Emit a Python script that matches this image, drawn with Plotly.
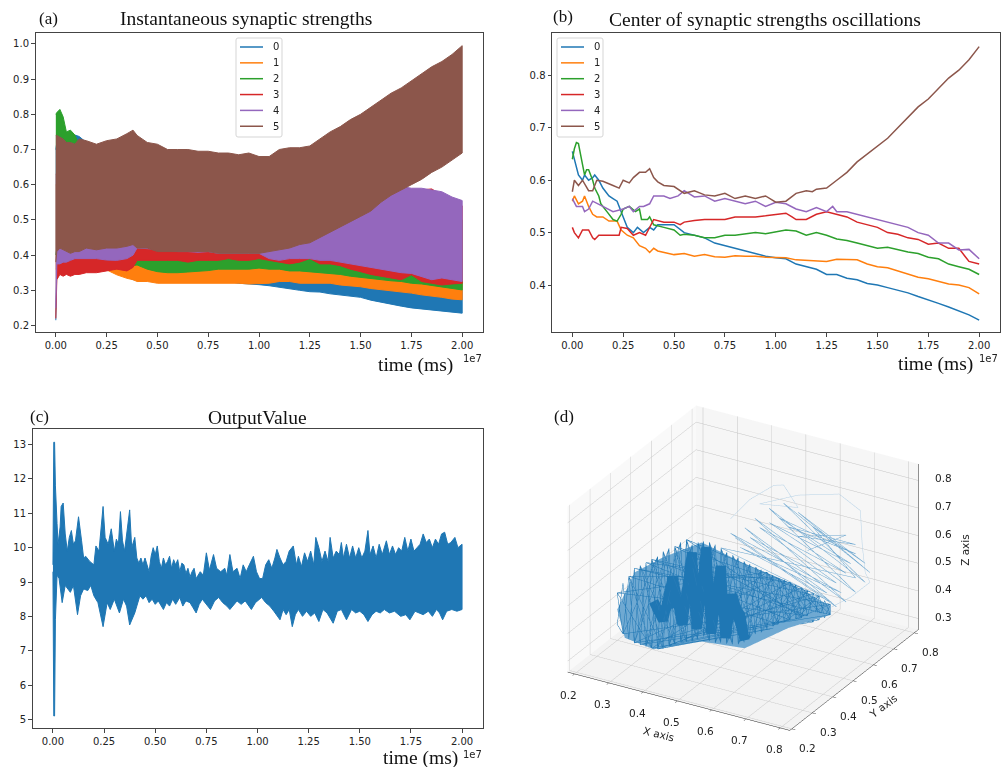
import plotly.graph_objects as go

W, H = 1001, 767
COLORS = ["#1f77b4", "#ff7f0e", "#2ca02c", "#d62728", "#9467bd", "#8c564b"]
NAMES = ["0", "1", "2", "3", "4", "5"]
TICKS_T = [0, .25, .5, .75, 1, 1.25, 1.5, 1.75, 2]
TICKTEXT_T = ["0.00", "0.25", "0.50", "0.75", "1.00", "1.25", "1.50", "1.75", "2.00"]

# ---------- panel (a): envelope of each oscillating strength (time in 1e7 ms)
ta = [0, .005, .02, .036, .052, .072, .094, .115, .15, .2, .25, .3, .35, .38, .4, .45, .5, .55, .6, .65, .7, .75, .8, .85, .9, .95,
      1, 1.05, 1.1, 1.15, 1.2, 1.25, 1.3, 1.35, 1.4, 1.45, 1.5, 1.55, 1.6, 1.65, 1.7, 1.75, 1.8, 1.85, 1.9, 1.95, 2]
up5 = [.74, .74, .735, .73, .72, .72, .715, .73, .725, .715, .725, .73, .745, .755, .74, .72, .715, .70, .70, .70, .695, .695, .69, .69,
       .685, .69, .68, .68, .70, .705, .705, .71, .73, .75, .765, .785, .80, .82, .84, .86, .875, .895, .915, .935, .95, .97, .995]
lo5 = [.38, .41, .42, .415, .41, .405, .41, .41, .42, .415, .42, .42, .425, .43, .42, .42, .41, .41, .41, .41, .41, .41, .405, .405,
       .405, .405, .405, .41, .415, .42, .43, .435, .45, .465, .48, .495, .51, .525, .55, .57, .585, .60, .615, .635, .65, .67, .69]
up4 = [.70, .70, .70, .70, .70, .70, .70, .70, .70, .70, .70, .70, .70, .70, .70, .70, .70, .69, .69, .69, .69, .69, .68, .68,
       .68, .68, .67, .67, .67, .67, .66, .66, .65, .65, .64, .63, .63, .62, .61, .60, .595, .59, .59, .585, .58, .565, .555]
lo4 = [.25, .375, .375, .38, .38, .385, .39, .39, .39, .39, .386, .385, .39, .40, .42, .417, .417, .415, .41, .41, .408, .41, .405, .405,
       .405, .405, .405, .39, .385, .39, .39, .39, .385, .385, .38, .375, .372, .365, .36, .355, .35, .348, .34, .33, .335, .33, .325]
up3 = [.63, .63, .63, .63, .63, .63, .63, .63, .63, .63, .63, .63, .63, .63, .63, .63, .63, .63, .63, .63, .63, .63, .63, .63,
       .63, .63, .63, .63, .63, .63, .62, .62, .62, .62, .62, .61, .61, .61, .60, .60, .59, .585, .585, .588, .57, .55, .54]
lo3 = [.22, .33, .345, .34, .345, .34, .345, .345, .35, .35, .356, .36, .355, .365, .385, .385, .385, .385, .385, .38, .385, .385, .385, .39,
       .385, .385, .39, .385, .38, .375, .38, .39, .375, .375, .37, .36, .353, .345, .34, .335, .33, .344, .325, .32, .315, .318, .32]
up2 = [.80, .805, .814, .793, .75, .755, .741, .713, .70, .68, .66, .64, .62, .60, .60, .59, .58, .58, .58, .58, .58, .58, .58, .58,
       .58, .58, .58, .58, .58, .58, .57, .57, .57, .56, .56, .55, .55, .54, .54, .53, .53, .52, .52, .51, .51, .50, .50]
lo2 = [.40, .42, .40, .39, .38, .38, .37, .37, .36, .36, .37, .365, .36, .37, .372, .36, .353, .35, .35, .352, .355, .356, .36, .36,
       .36, .36, .363, .36, .36, .355, .355, .353, .35, .348, .345, .34, .337, .335, .33, .327, .325, .32, .318, .315, .31, .305, .301]
up1 = [.60, .60, .60, .60, .60, .60, .60, .60, .60, .60, .58, .56, .55, .55, .55, .55, .54, .54, .54, .54, .53, .53, .53, .53,
       .53, .53, .52, .52, .51, .51, .50, .50, .49, .49, .48, .47, .47, .46, .45, .44, .44, .43, .42, .42, .41, .40, .39]
lo1 = [.36, .36, .36, .36, .36, .36, .36, .36, .36, .358, .358, .344, .334, .33, .325, .325, .32, .32, .32, .322, .32, .32, .32, .32,
       .32, .318, .318, .32, .325, .325, .32, .32, .32, .32, .315, .312, .31, .305, .30, .297, .295, .292, .287, .283, .28, .275, .273]
up0 = [.70, .72, .72, .72, .72, .72, .741, .737, .72, .70, .68, .66, .64, .62, .62, .61, .60, .59, .58, .57, .56, .55, .55, .54,
       .53, .53, .52, .51, .50, .49, .48, .47, .46, .45, .44, .43, .42, .41, .40, .40, .39, .38, .37, .37, .36, .35, .34]
lo0 = [.215, .36, .36, .36, .36, .36, .36, .36, .36, .36, .36, .35, .34, .33, .33, .33, .33, .33, .33, .33, .33, .33, .325, .325,
       .32, .318, .316, .313, .31, .305, .30, .296, .295, .29, .285, .283, .28, .272, .265, .26, .255, .25, .245, .242, .24, .238, .235]
UP = [up0, up1, up2, up3, up4, up5]
LO = [lo0, lo1, lo2, lo3, lo4, lo5]

# ---------- panel (b): centre of each oscillation
tb0 = [0, .01, .02, .03, .05, .06, .08, .1, .11, .13, .15, .18, .2, .22, .25, .27, .3, .32, .35, .38, .4, .42, .45, .5, .55, .6, .65, .7, .75, .8, .85, .9, .95, 1, 1.05, 1.1, 1.15, 1.2, 1.25, 1.3, 1.35, 1.4, 1.45, 1.5, 1.55, 1.6, 1.65, 1.7, 1.75, 1.8, 1.85, 1.9, 1.95, 2]
yb0 = [.655, .64, .62, .61, .60, .61, .60, .605, .61, .60, .585, .57, .565, .56, .53, .51, .50, .51, .50, .51, .505, .515, .515, .515, .50, .495, .49, .48, .475, .47, .465, .46, .455, .452, .45, .44, .435, .43, .42, .42, .413, .41, .403, .40, .395, .39, .385, .378, .372, .365, .358, .35, .343, .333]
tb1 = [0, .01, .03, .05, .06, .08, .1, .12, .15, .18, .22, .24, .27, .3, .33, .36, .38, .4, .42, .45, .5, .55, .6, .65, .7, .75, .8, .85, .9, .95, 1, 1.05, 1.1, 1.15, 1.2, 1.25, 1.3, 1.35, 1.4, 1.45, 1.5, 1.55, 1.6, 1.65, 1.7, 1.75, 1.8, 1.85, 1.9, 1.95, 2]
yb1 = [.56, .57, .555, .56, .57, .55, .535, .53, .53, .522, .522, .505, .495, .49, .475, .47, .462, .47, .465, .462, .458, .46, .455, .458, .454, .453, .456, .455, .455, .453, .453, .452, .448, .447, .445, .445, .449, .449, .448, .44, .435, .433, .427, .42, .415, .412, .407, .402, .40, .395, .383]
tb2 = [0, .01, .02, .03, .04, .05, .06, .07, .08, .1, .11, .13, .14, .17, .2, .22, .24, .25, .28, .31, .33, .34, .37, .38, .4, .45, .5, .53, .55, .6, .65, .7, .75, .8, .85, .9, .95, 1, 1.05, 1.1, 1.15, 1.2, 1.25, 1.3, 1.35, 1.4, 1.45, 1.5, 1.55, 1.6, 1.65, 1.7, 1.75, 1.8, 1.85, 1.9, 1.95, 2]
yb2 = [.64, .66, .672, .67, .65, .63, .61, .62, .62, .60, .585, .57, .555, .54, .525, .522, .535, .545, .55, .54, .545, .525, .525, .53, .515, .51, .505, .495, .497, .495, .49, .49, .495, .495, .497, .50, .498, .502, .505, .503, .495, .50, .495, .488, .485, .48, .475, .47, .472, .467, .463, .46, .453, .45, .44, .435, .43, .42]
tb3 = [0, .01, .03, .05, .08, .1, .11, .13, .15, .2, .23, .24, .27, .3, .33, .36, .38, .4, .45, .5, .53, .55, .6, .65, .7, .75, .8, .85, .9, .95, 1, 1.05, 1.08, 1.1, 1.15, 1.2, 1.25, 1.3, 1.35, 1.4, 1.45, 1.5, 1.55, 1.6, 1.65, 1.7, 1.75, 1.8, 1.85, 1.9, 1.93, 1.95, 2]
yb3 = [.51, .50, .49, .505, .505, .49, .487, .495, .495, .495, .495, .51, .508, .495, .50, .495, .51, .525, .52, .52, .515, .52, .523, .525, .525, .525, .53, .53, .53, .532, .535, .537, .53, .525, .525, .535, .54, .535, .53, .52, .515, .51, .50, .497, .49, .487, .478, .48, .47, .47, .455, .445, .44]
tb4 = [0, .02, .05, .06, .08, .1, .15, .2, .25, .28, .3, .33, .35, .38, .4, .45, .48, .52, .55, .6, .65, .7, .75, .8, .85, .9, .95, 1, 1.05, 1.1, 1.15, 1.2, 1.25, 1.28, 1.3, 1.35, 1.4, 1.45, 1.5, 1.55, 1.6, 1.65, 1.7, 1.75, 1.8, 1.85, 1.9, 1.95, 2]
yb4 = [.565, .55, .55, .54, .545, .56, .55, .54, .545, .55, .54, .55, .55, .555, .57, .57, .565, .57, .58, .568, .57, .56, .565, .56, .555, .56, .55, .558, .555, .545, .54, .548, .54, .55, .54, .54, .535, .53, .525, .52, .515, .51, .50, .495, .48, .48, .467, .468, .45]
tb5 = [0, .01, .03, .05, .08, .1, .12, .15, .2, .23, .25, .28, .3, .33, .36, .38, .4, .42, .45, .5, .55, .6, .65, .7, .75, .8, .85, .9, .95, 1, 1.05, 1.1, 1.15, 1.18, 1.2, 1.25, 1.3, 1.35, 1.4, 1.45, 1.5, 1.55, 1.6, 1.65, 1.7, 1.75, 1.8, 1.85, 1.9, 1.95, 2]
yb5 = [.578, .60, .59, .60, .58, .58, .60, .598, .59, .585, .60, .595, .605, .615, .615, .622, .605, .597, .59, .588, .575, .58, .572, .57, .575, .565, .57, .565, .57, .558, .56, .575, .58, .578, .583, .585, .60, .615, .635, .65, .665, .68, .70, .72, .74, .755, .775, .795, .81, .83, .855]
TB = [tb0, tb1, tb2, tb3, tb4, tb5]
YB = [yb0, yb1, yb2, yb3, yb4, yb5]

# ---------- panel (c): output value envelope
tc_up = [0, .004, .008, .012, .02, .025, .035, .04, .05, .06, .07, .08, .09, .1, .11, .125, .14, .15, .16, .18, .2, .21, .225, .235, .245, .255, .27, .285, .3, .31, .32, .33, .34, .35, .36, .375, .385,
         .40, .41, .42, .43, .44, .45, .46, .47, .48, .49, .50, .51, .52, .53, .54, .55, .56, .57, .58, .59, .60, .61, .62, .63, .64, .65, .66, .67, .68, .69, .70, .72, .735, .75, .765, .785, .80, .82, .84, .85, .865, .88, .90, .915, .93, .945, .96, .98, .995,
         1.01, 1.025, 1.04, 1.055, 1.07, 1.085, 1.095, 1.11, 1.125, 1.14, 1.155, 1.175, 1.19, 1.2, 1.215, 1.23, 1.245, 1.26, 1.275, 1.285, 1.30, 1.315, 1.33, 1.345, 1.355, 1.37, 1.385, 1.40, 1.41, 1.42, 1.435, 1.45, 1.465, 1.48, 1.495, 1.51, 1.525, 1.54, 1.55, 1.565, 1.58, 1.595, 1.61, 1.63, 1.645, 1.66, 1.675, 1.69, 1.705, 1.72, 1.735, 1.75, 1.765, 1.78, 1.795, 1.81, 1.825, 1.84, 1.855, 1.87, 1.885, 1.90, 1.915, 1.93, 1.945, 1.965, 1.98, 2.0]
yc_up = [9.5, 13.07, 13.07, 11.8, 10.7, 10.1, 10.6, 11.2, 11.3, 10.4, 9.9, 10.3, 10.5, 10.1, 10.2, 10.9, 10.2, 9.7, 9.75, 9.6, 9.5, 10.05, 9.9, 10.6, 11.2, 10.3, 10.1, 10.55, 9.9, 10.25, 10.1, 11.05, 10.2, 9.9, 10.4, 11.1, 10.0,
         10.3, 9.7, 9.55, 9.7, 9.5, 9.7, 9.5, 9.3, 9.75, 10.0, 9.8, 10.05, 9.6, 9.4, 9.7, 9.5, 9.6, 9.75, 9.4, 9.65, 9.5, 9.65, 9.3, 9.55, 9.5, 9.25, 9.4, 9.15, 9.3, 9.4, 9.1, 9.3, 9.2, 9.85, 9.35, 9.8, 9.4, 9.3, 9.4, 9.2, 9.8, 9.3, 9.4, 9.1, 9.5, 9.3, 9.5, 9.75, 9.3,
         9.1, 9.1, 9.5, 9.65, 9.4, 9.7, 9.95, 9.7, 9.5, 9.6, 9.9, 10.05, 9.5, 9.75, 9.45, 9.85, 9.6, 9.9, 9.5, 10.3, 10.0, 9.6, 9.9, 9.6, 10.3, 9.7, 9.9, 9.8, 10.15, 9.7, 10.1, 9.7, 10.05, 9.7, 10.0, 9.7, 9.9, 10.5, 9.8, 10.05, 9.7, 10.1, 9.8, 10.2, 9.8, 10.05, 9.8, 10.0, 9.9, 10.3, 9.9, 10.25, 9.9, 10.0, 10.1, 10.4, 10.15, 10.25, 10.0, 10.25, 10.1, 10.4, 10.45, 10.1, 10.15, 10.3, 10.0, 10.1]
tc_lo = [0, .004, .008, .012, .02, .03, .045, .06, .085, .1, .12, .135, .15, .17, .185, .2, .22, .245, .265, .28, .3, .325, .345, .36, .375,
         .40, .415, .425, .44, .455, .47, .485, .50, .515, .54, .555, .57, .585, .60, .62, .635, .65, .67, .685, .70, .715, .73, .75, .77, .79, .81, .83, .85, .865, .88, .90, .92, .94, .97, .99, 1.02, 1.04, 1.06, 1.08, 1.11, 1.125, 1.14, 1.155, 1.17, 1.185, 1.20, 1.22, 1.24, 1.26, 1.28, 1.30, 1.32, 1.34, 1.37, 1.39, 1.41, 1.435, 1.46, 1.48, 1.50, 1.52, 1.54, 1.56, 1.58, 1.60, 1.62, 1.645, 1.67, 1.70, 1.725, 1.745, 1.77, 1.79, 1.81, 1.835, 1.855, 1.875, 1.89, 1.905, 1.925, 1.95, 1.975, 2.0]
yc_lo = [9.3, 5.1, 5.1, 7.9, 9.2, 9.1, 8.4, 8.9, 8.7, 8.9, 8.05, 8.6, 8.8, 8.75, 8.9, 8.6, 8.4, 7.7, 8.4, 8.2, 8.5, 8.1, 8.5, 8.3, 7.75,
         8.1, 8.4, 8.6, 8.5, 8.6, 8.4, 8.5, 8.35, 8.45, 8.2, 8.4, 8.3, 8.5, 8.35, 8.55, 8.3, 8.45, 8.4, 8.25, 8.1, 8.35, 8.5, 8.35, 8.2, 8.45, 8.55, 8.4, 8.3, 8.2, 8.3, 8.45, 8.35, 8.45, 8.2, 8.4, 8.55, 8.4, 8.3, 8.15, 7.9, 8.2, 8.05, 8.2, 7.7, 8.05, 8.2, 8.0, 8.15, 8.0, 8.1, 7.85, 8.2, 8.1, 7.8, 8.15, 8.2, 7.9, 8.2, 8.1, 8.15, 8.05, 7.85, 8.05, 8.15, 8.1, 8.2, 8.1, 8.15, 8.0, 8.05, 7.9, 8.15, 8.1, 8.05, 8.15, 8.0, 8.2, 8.1, 7.9, 8.15, 8.2, 8.15, 8.2]

# ---------- panel (d): trajectory traced through (x, y, z)
sweep_xyz = [(.259,.3,.509),(.276,.3,.366),(.293,.3,.58),(.309,.3,.344),(.326,.3,.63),(.343,.3,.342),(.36,.3,.663),(.377,.3,.344),(.393,.3,.703),(.41,.3,.366),(.427,.3,.732),(.444,.3,.392),(.461,.3,.768),(.477,.3,.404),
 (.257,.7,.459),(.511,.3,.433),(.29,.7,.471),(.545,.3,.421),(.324,.7,.459),(.578,.3,.429),(.358,.7,.446),(.612,.3,.438),(.391,.7,.434),(.645,.3,.471),(.425,.7,.425),(.679,.3,.503),(.458,.7,.417),(.713,.3,.536),(.492,.7,.407),(.746,.3,.562),(.526,.7,.402),(.78,.3,.584),(.559,.7,.393),(.814,.3,.607),(.593,.7,.385),(.61,.7,.294),(.626,.7,.369),(.643,.7,.323),
 (.643,.7,.361),(.626,.7,.307),(.61,.7,.38),(.593,.7,.281),(.576,.7,.389),(.797,.3,.594),(.542,.7,.398),(.763,.3,.575),(.509,.7,.406),(.729,.3,.549),(.475,.7,.412),(.696,.3,.52),(.441,.7,.421),(.662,.3,.491),(.408,.7,.43),(.629,.3,.451),(.374,.7,.443),(.595,.3,.432),(.341,.7,.451),(.561,.3,.427),(.307,.7,.467),(.528,.3,.422),(.273,.7,.468),(.494,.3,.417),(.24,.7,.446),(.461,.3,.398),(.444,.3,.752),(.427,.3,.379),(.41,.3,.719),(.393,.3,.35),(.377,.3,.679),(.36,.3,.341),(.343,.3,.646),(.326,.3,.343),(.309,.3,.614),(.293,.3,.352),(.276,.3,.55),(.259,.3,.395),
 (.276,.3,.366),(.643,.7,.361),(.309,.3,.614),(.643,.7,.323),(.326,.3,.343),(.61,.7,.38),(.36,.3,.663),(.61,.7,.294),(.377,.3,.344),(.593,.7,.385),(.427,.3,.732),(.593,.7,.281),(.41,.3,.366),(.559,.7,.393),(.461,.3,.768),(.797,.3,.594),(.444,.3,.392),(.526,.7,.402),(.343,.3,.646),(.763,.3,.575),(.309,.3,.344),(.492,.7,.407),(.293,.3,.58),(.729,.3,.549),(.36,.3,.341),(.458,.7,.417),(.259,.3,.509),(.814,.3,.607)]
cross_xyz = [(.259,.3,.509),(.36,.3,.341),(.293,.3,.58),(.393,.3,.35),(.326,.3,.63),(.427,.3,.379),(.36,.3,.663),(.461,.3,.398),(.393,.3,.703),(.494,.3,.417),(.427,.3,.732),(.528,.3,.422),(.461,.3,.768),(.561,.3,.427),(.257,.7,.459),(.595,.3,.432),(.29,.7,.471),(.629,.3,.451),(.324,.7,.459),(.662,.3,.491),(.358,.7,.446),(.696,.3,.52),(.391,.7,.434),(.729,.3,.549),(.425,.7,.425),(.763,.3,.575),(.458,.7,.417),(.797,.3,.594),(.492,.7,.407),(.593,.7,.281),(.526,.7,.402),(.626,.7,.307),(.559,.7,.393),(.643,.7,.323),
 (.643,.7,.361),(.78,.3,.584),(.61,.7,.38),(.746,.3,.562),(.576,.7,.389),(.713,.3,.536),(.542,.7,.398),(.679,.3,.503),(.509,.7,.406),(.645,.3,.471),(.475,.7,.412),(.612,.3,.438),(.441,.7,.421),(.578,.3,.429),(.408,.7,.43),(.545,.3,.421),(.374,.7,.443),(.511,.3,.433),(.341,.7,.451),(.477,.3,.404),(.307,.7,.467),(.444,.3,.392),(.273,.7,.468),(.41,.3,.366),(.24,.7,.446),(.377,.3,.344),(.444,.3,.752),(.343,.3,.342),(.41,.3,.719),(.309,.3,.344),(.377,.3,.679),(.276,.3,.366)]
core_xyz = [(.365,.3,.513),(.393,.3,.453),(.421,.3,.619),(.449,.3,.456),(.477,.3,.726),(.491,.3,.454),(.519,.3,.758),(.533,.3,.451),(.561,.3,.704),(.575,.3,.449),(.595,.3,.612),(.631,.3,.459),(.617,.3,.551),(.505,.3,.58),(.393,.3,.505)]
fan_xyz = [(.306,.8,.434),(.601,.8,.28),(.334,.8,.479),(.629,.8,.307),(.363,.8,.523),(.657,.8,.351),(.405,.8,.573),(.685,.8,.396),(.447,.8,.605),(.699,.8,.436),(.489,.8,.586),(.685,.8,.465),(.531,.8,.549),(.657,.8,.403),(.264,.8,.384),(.587,.8,.292),(.292,.8,.446),(.615,.8,.336),
 (.32,.8,.404),(.573,.8,.321),(.349,.8,.449),(.601,.8,.366),(.377,.8,.494),(.629,.8,.411),(.405,.8,.521),(.643,.8,.45),(.433,.8,.548),(.657,.8,.49),(.461,.8,.524),(.657,.8,.524),(.489,.8,.499),(.629,.8,.549),(.517,.8,.457)]
loops_xyz = [(.292,.8,.498),(.349,.8,.587),(.419,.8,.661),(.447,.8,.671),(.489,.8,.603),(.377,.8,.58),(.489,.8,.648),(.609,.8,.691),(.671,.8,.651),(.676,.8,.531),(.685,.8,.431),(.699,.8,.401),(.643,.8,.329),(.587,.8,.275)]
# outline of the densely covered area of the trajectory (last point: its middle)
cloud_xyz = [(.182,.43,.348),(.19,.5,.444),(.215,.6,.45),(.238,.75,.424),(.321,.8,.352),(.461,.8,.323),(.584,.8,.277),(.643,.7,.323),(.579,.6,.312),(.512,.5,.275),(.416,.45,.297),(.336,.35,.301),(.222,.4,.276),(.327,.6,.326)]
RX, RY, RZ = [.18, .828], [.19, .82], [.26, .86]
T3 = [.2, .3, .4, .5, .6, .7, .8]
TZ = [.3, .4, .5, .6, .7, .8]

def xdom(a, b): return [a / W, b / W]
def ydom(top, bot): return [1 - bot / H, 1 - top / H]

fig = go.Figure()
for i in range(6):
    fig.add_trace(go.Scatter(x=ta + ta[::-1], y=UP[i] + LO[i][::-1], fill="toself", mode="lines", fillcolor=COLORS[i],
                             line=dict(color=COLORS[i], width=1), name=NAMES[i], showlegend=False, xaxis="x", yaxis="y"))
for i in range(6):
    fig.add_trace(go.Scatter(x=TB[i], y=YB[i], mode="lines", line=dict(color=COLORS[i], width=1.5), name=NAMES[i],
                             showlegend=False, xaxis="x2", yaxis="y2"))
fig.add_trace(go.Scatter(x=tc_up + tc_lo[::-1], y=yc_up + yc_lo[::-1], fill="toself", mode="lines", fillcolor=COLORS[0],
                         line=dict(color=COLORS[0], width=1), showlegend=False, xaxis="x3", yaxis="y3"))
n_out = len(cloud_xyz) - 1
fig.add_trace(go.Mesh3d(x=[p[0] for p in cloud_xyz], y=[p[1] for p in cloud_xyz], z=[p[2] for p in cloud_xyz],
                        i=[n_out] * n_out, j=list(range(n_out)), k=[(q + 1) % n_out for q in range(n_out)], color="#6fa9d2",
                        flatshading=True, lighting=dict(ambient=1, diffuse=0, specular=0, roughness=1, fresnel=0), hoverinfo="skip", showscale=False))
for pts, w, col in [(loops_xyz, 1, "#b5d2e6"), (fan_xyz, 1, "#6aa5cf"), (sweep_xyz, 1, "#1f77b4"), (cross_xyz, 1, "#2a7db8"), (core_xyz, 20, "#1f77b4")]:
    fig.add_trace(go.Scatter3d(x=[p[0] for p in pts], y=[p[1] for p in pts], z=[p[2] for p in pts], mode="lines",
                               line=dict(color=col, width=w), showlegend=False))
# z axis line with its ticks on the right-hand edge of the box
zx, zy, zz = [RX[1], RX[1]], [RY[1], RY[1]], list(RZ)
for v in TZ:
    zx += [None, RX[1], RX[1] - .012]
    zy += [None, RY[1], RY[1] + .012]
    zz += [None, v, v]
fig.add_trace(go.Scatter3d(x=zx, y=zy, z=zz, mode="lines", line=dict(color="#222", width=1), showlegend=False))

ax = dict(showgrid=False, zeroline=False, showline=True, mirror=True, linecolor="#444", linewidth=1, ticks="outside", ticklen=3.5,
          tickwidth=1, tickcolor="#444", tickfont=dict(family="DejaVu Sans", size=10, color="#222"))
xt = dict(ax, tickvals=TICKS_T, ticktext=TICKTEXT_T)
fig.update_layout(
    width=W, height=H, margin=dict(l=0, r=0, t=0, b=0), paper_bgcolor="white", plot_bgcolor="white", showlegend=False,
    xaxis=dict(xt, domain=xdom(35.5, 482.5), range=[-.1, 2.1], anchor="y"),
    yaxis=dict(ax, domain=ydom(33, 332), range=[.1815, 1.031], tickvals=[.2, .3, .4, .5, .6, .7, .8, .9, 1], tickformat=".1f", anchor="x"),
    xaxis2=dict(xt, domain=xdom(552, 999.5), range=[-.1, 2.1], anchor="y2"),
    yaxis2=dict(ax, domain=ydom(33, 332), range=[.3103, .881], tickvals=[.4, .5, .6, .7, .8], tickformat=".1f", anchor="x2"),
    xaxis3=dict(xt, domain=xdom(32.5, 482.5), range=[-.1, 2.1], anchor="y3"),
    yaxis3=dict(ax, domain=ydom(428.5, 728), range=[4.75, 13.47], tickvals=[5, 6, 7, 8, 9, 10, 11, 12, 13], anchor="x3"),
)
ax3 = dict(showbackground=True, gridcolor="#c4c4c4", gridwidth=1, showline=True, linecolor="#222", linewidth=1, ticks="outside", ticklen=4,
           tickcolor="#222", zeroline=False, showticklabels=False, tickvals=T3, showspikes=False, title=dict(text=""))

sc_font = dict(family="DejaVu Sans", size=10.5, color="#222")
def s3(text, x, y, z, dx, dy, angle=0):
    return dict(text=text, x=x, y=y, z=z, xshift=dx, yshift=-dy, showarrow=False, font=sc_font, textangle=angle, xanchor="center", yanchor="middle")
scene_notes = [s3(f"{v:.1f}", v, RY[0], RZ[0], -6, 21) for v in T3]
scene_notes += [s3(f"{v:.1f}", RX[1], v, RZ[0], 16, 19) for v in T3]
scene_notes += [s3(f"{v:.1f}", RX[1], RY[1], v, 25, -2) for v in TZ]
scene_notes += [s3("X axis", .5, RY[0], RZ[0], -18, 33, 14), s3("Y axis", RX[1], .5, RZ[0], 30, 25, -37), s3("Z axis", RX[1], RY[1], .55, 46, 0, -90)]

fig.update_layout(scene=dict(
    domain=dict(x=xdom(513, 973), y=ydom(382, 754)),
    aspectmode="manual", aspectratio=dict(x=1.38, y=1.38, z=1.0),
    camera=dict(eye=dict(x=.58, y=-1.003, z=.59), center=dict(x=0, y=0, z=0), up=dict(x=0, y=0, z=1), projection=dict(type="orthographic")),
    xaxis=dict(ax3, range=RX, backgroundcolor="#f9f9f9"),
    yaxis=dict(ax3, range=RY, backgroundcolor="#f6f6f6"),
    zaxis=dict(ax3, range=RZ, backgroundcolor="#f3f3f3", tickvals=TZ, showline=False, ticks=""),
    annotations=scene_notes,
))

serif = "Liberation Serif"
def label(text, x, y, size=19.5, anchor="left"):
    fig.add_annotation(text=text, xref="paper", yref="paper", x=x / W, y=1 - y / H, showarrow=False, xanchor=anchor, yanchor="middle",
                       font=dict(family=serif, size=size, color="#111"))
label("(a)", 37, 18, 17)
label("Instantaneous synaptic strengths", 118, 18)
label("(b)", 551, 17, 17)
label("Center of synaptic strengths oscillations", 607, 19)
label("(c)", 28, 416, 17)
label("OutputValue", 206, 417)
label("(d)", 552, 416, 17)
label("time (ms)", 376, 365)
label("time (ms)", 896, 364)
label("time (ms)", 381, 758)
for x, y in [(461, 358.5), (977, 358.5), (461, 754)]:
    fig.add_annotation(text="1e7", xref="paper", yref="paper", x=x / W, y=1 - y / H, showarrow=False, xanchor="left", yanchor="middle",
                       font=dict(family="DejaVu Sans", size=10, color="#222"))

def legend_box(x0, y0):
    r = 2
    x1, y1 = x0 + 46, y0 + 99
    def X(v): return v / W
    def Y(v): return 1 - v / H
    path = (f"M {X(x0+r)} {Y(y0)} L {X(x1-r)} {Y(y0)} Q {X(x1)} {Y(y0)} {X(x1)} {Y(y0+r)} L {X(x1)} {Y(y1-r)} Q {X(x1)} {Y(y1)} {X(x1-r)} {Y(y1)} "
            f"L {X(x0+r)} {Y(y1)} Q {X(x0)} {Y(y1)} {X(x0)} {Y(y1-r)} L {X(x0)} {Y(y0+r)} Q {X(x0)} {Y(y0)} {X(x0+r)} {Y(y0)} Z")
    fig.add_shape(type="path", path=path, xref="paper", yref="paper", fillcolor="rgba(255,255,255,.8)", line=dict(color="#d5d5d5", width=1), layer="above")
    for i in range(6):
        yy = y0 + 9 + i * 15.85
        fig.add_shape(type="line", xref="paper", yref="paper", x0=X(x0 + 4), x1=X(x0 + 27), y0=Y(yy), y1=Y(yy), line=dict(color=COLORS[i], width=1.5), layer="above")
        fig.add_annotation(text=NAMES[i], xref="paper", yref="paper", x=X(x0 + 35), y=Y(yy), showarrow=False, xanchor="left", yanchor="middle",
                           font=dict(family="DejaVu Sans", size=10, color="#222"))
legend_box(236, 38)
legend_box(557, 38)

fig.write_html("out.html", config=dict(displayModeBar=False), post_script="document.body.style.margin='0';document.body.style.overflow='hidden';")
